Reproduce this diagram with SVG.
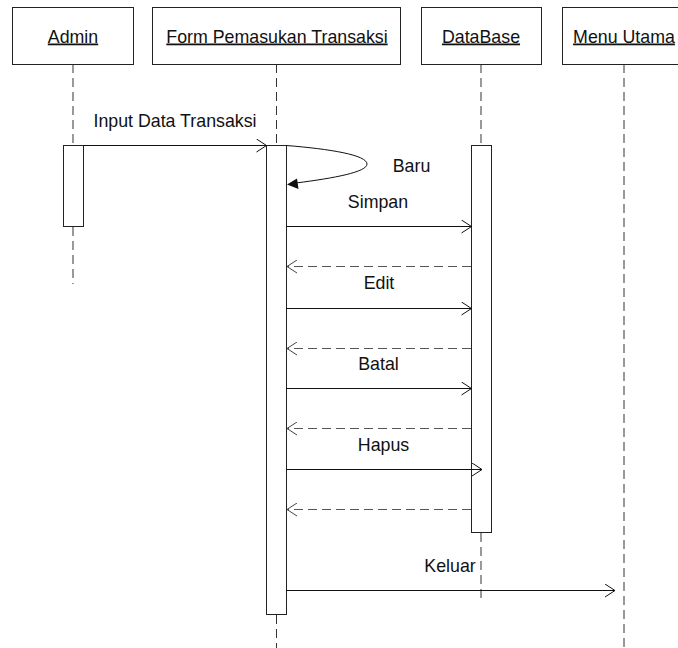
<svg xmlns="http://www.w3.org/2000/svg" width="678" height="648" viewBox="0 0 678 648">
<defs>
<style>
.box{fill:#fff;stroke:#222;stroke-width:1}
.bar{fill:#fff;stroke:#222;stroke-width:1}
.life{stroke:#333;stroke-width:1;stroke-dasharray:9 5;fill:none}
.msg{stroke:#111;stroke-width:1;fill:none}
.ret{stroke:#555;stroke-width:1;stroke-dasharray:9 5;fill:none}
text{font-family:"Liberation Sans",Arial,sans-serif;font-size:17.8px;fill:#111}
.nm{text-anchor:middle;text-decoration:underline}
.lbl{text-anchor:middle}
</style>
<marker id="open" viewBox="0 0 11 14" refX="10.5" refY="7" markerWidth="11" markerHeight="14" markerUnits="userSpaceOnUse" orient="auto">
<path d="M0.5,0.5 L10.5,7 L0.5,13.5" fill="none" stroke="#111" stroke-width="1"/>
</marker>
<marker id="openg" viewBox="0 0 11 14" refX="10.5" refY="7" markerWidth="11" markerHeight="14" markerUnits="userSpaceOnUse" orient="auto">
<path d="M0.5,0.5 L10.5,7 L0.5,13.5" fill="none" stroke="#444" stroke-width="1"/>
</marker>
</defs>
<rect width="678" height="648" fill="#fff"/>
<g id="lifelines">
<line class="life" x1="73" y1="64" x2="73" y2="145"/>
<line class="life" x1="73" y1="227" x2="73" y2="284"/>
<line class="life" x1="276.5" y1="64" x2="276.5" y2="145"/>
<line class="life" x1="276.5" y1="615" x2="276.5" y2="648"/>
<line class="life" x1="481" y1="64" x2="481" y2="145"/>
<line class="life" x1="481" y1="533" x2="481" y2="599"/>
<line class="life" x1="624" y1="64" x2="624" y2="648"/>
</g>
<g id="admin">
<rect class="box" x="12.5" y="7.5" width="121" height="57"/>
<text class="nm" x="73" y="42.5">Admin</text>
<rect class="bar" x="63.5" y="145.5" width="20" height="81"/>
</g>
<g id="form">
<rect class="box" x="152.5" y="7.5" width="248" height="57"/>
<text class="nm" x="277" y="42.5">Form Pemasukan Transaksi</text>
<rect class="bar" x="266.5" y="145.5" width="20" height="469"/>
</g>
<g id="database">
<rect class="box" x="421.5" y="7.5" width="120" height="57"/>
<text class="nm" x="481" y="42.5">DataBase</text>
<rect class="bar" x="471.5" y="145.5" width="20" height="387"/>
</g>
<g id="menu">
<rect class="box" x="562.5" y="7.5" width="124" height="57"/>
<text class="nm" x="624" y="42.5">Menu Utama</text>
</g>
<g id="connectors">
<line class="msg" x1="83.5" y1="145.5" x2="266.5" y2="145.5" marker-end="url(#open)"/>
<text class="lbl" x="175" y="127">Input Data Transaksi</text>
<path class="msg" d="M286.5,145.5 C330,149 367,155 367,164 C367,172 335,178 296,183"/>
<polygon points="287,184.5 297,178.5 298.5,189" fill="#111"/>
<text class="lbl" x="411.5" y="172">Baru</text>
<line class="msg" x1="286.5" y1="226.5" x2="471.5" y2="226.5" marker-end="url(#open)"/>
<text class="lbl" x="378" y="208">Simpan</text>
<line class="ret" x1="471" y1="266.5" x2="287" y2="266.5" marker-end="url(#openg)"/>
<line class="msg" x1="286.5" y1="308.5" x2="471.5" y2="308.5" marker-end="url(#open)"/>
<text class="lbl" x="379" y="289">Edit</text>
<line class="ret" x1="471" y1="348.5" x2="287" y2="348.5" marker-end="url(#openg)"/>
<line class="msg" x1="286.5" y1="388.5" x2="471.5" y2="388.5" marker-end="url(#open)"/>
<text class="lbl" x="378.5" y="370">Batal</text>
<line class="ret" x1="471" y1="428.5" x2="287" y2="428.5" marker-end="url(#openg)"/>
<line class="msg" x1="286.5" y1="469.5" x2="482" y2="469.5" marker-end="url(#open)"/>
<text class="lbl" x="383.5" y="451">Hapus</text>
<line class="ret" x1="471" y1="509.5" x2="287" y2="509.5" marker-end="url(#openg)"/>
<line class="msg" x1="286.5" y1="590.5" x2="615" y2="590.5" marker-end="url(#open)"/>
<text class="lbl" x="450" y="572">Keluar</text>
</g>
</svg>
